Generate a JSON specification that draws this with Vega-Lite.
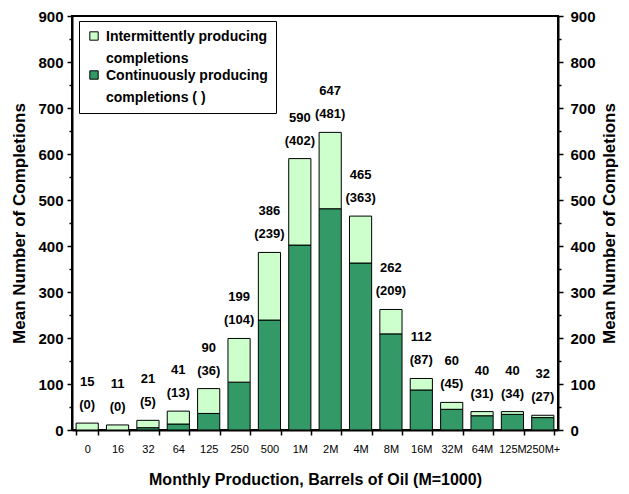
{
  "$schema": "https://vega.github.io/schema/vega-lite/v6.json",
  "width": 486,
  "height": 414,
  "autosize": {"type": "none"},
  "padding": {"left": 72, "top": 16, "right": 71, "bottom": 64},
  "background": "white",
  "config": {
    "font": "Liberation Sans",
    "view": {"stroke": "black", "strokeWidth": 2},
    "style": {"guide-label": {"lineHeight": 22}}
  },
  "datasets": {
    "bars": [
      {"cat": "0", "series": "Continuously producing|completions ( )", "value": 0},
      {"cat": "0", "series": "Intermittently producing|completions", "value": 15},
      {"cat": "16", "series": "Continuously producing|completions ( )", "value": 0},
      {"cat": "16", "series": "Intermittently producing|completions", "value": 11},
      {"cat": "32", "series": "Continuously producing|completions ( )", "value": 5},
      {"cat": "32", "series": "Intermittently producing|completions", "value": 16},
      {"cat": "64", "series": "Continuously producing|completions ( )", "value": 13},
      {"cat": "64", "series": "Intermittently producing|completions", "value": 28},
      {"cat": "125", "series": "Continuously producing|completions ( )", "value": 36},
      {"cat": "125", "series": "Intermittently producing|completions", "value": 54},
      {"cat": "250", "series": "Continuously producing|completions ( )", "value": 104},
      {"cat": "250", "series": "Intermittently producing|completions", "value": 95},
      {"cat": "500", "series": "Continuously producing|completions ( )", "value": 239},
      {"cat": "500", "series": "Intermittently producing|completions", "value": 147},
      {"cat": "1M", "series": "Continuously producing|completions ( )", "value": 402},
      {"cat": "1M", "series": "Intermittently producing|completions", "value": 188},
      {"cat": "2M", "series": "Continuously producing|completions ( )", "value": 481},
      {"cat": "2M", "series": "Intermittently producing|completions", "value": 166},
      {"cat": "4M", "series": "Continuously producing|completions ( )", "value": 363},
      {"cat": "4M", "series": "Intermittently producing|completions", "value": 102},
      {"cat": "8M", "series": "Continuously producing|completions ( )", "value": 209},
      {"cat": "8M", "series": "Intermittently producing|completions", "value": 53},
      {"cat": "16M", "series": "Continuously producing|completions ( )", "value": 87},
      {"cat": "16M", "series": "Intermittently producing|completions", "value": 25},
      {"cat": "32M", "series": "Continuously producing|completions ( )", "value": 45},
      {"cat": "32M", "series": "Intermittently producing|completions", "value": 15},
      {"cat": "64M", "series": "Continuously producing|completions ( )", "value": 31},
      {"cat": "64M", "series": "Intermittently producing|completions", "value": 9},
      {"cat": "125M", "series": "Continuously producing|completions ( )", "value": 34},
      {"cat": "125M", "series": "Intermittently producing|completions", "value": 6},
      {"cat": "250M+", "series": "Continuously producing|completions ( )", "value": 27},
      {"cat": "250M+", "series": "Intermittently producing|completions", "value": 5}
    ],
    "labels": [
      {"cat": "0", "total": 15, "cont": "(0)"},
      {"cat": "16", "total": 11, "cont": "(0)"},
      {"cat": "32", "total": 21, "cont": "(5)"},
      {"cat": "64", "total": 41, "cont": "(13)"},
      {"cat": "125", "total": 90, "cont": "(36)"},
      {"cat": "250", "total": 199, "cont": "(104)"},
      {"cat": "500", "total": 386, "cont": "(239)"},
      {"cat": "1M", "total": 590, "cont": "(402)"},
      {"cat": "2M", "total": 647, "cont": "(481)"},
      {"cat": "4M", "total": 465, "cont": "(363)"},
      {"cat": "8M", "total": 262, "cont": "(209)"},
      {"cat": "16M", "total": 112, "cont": "(87)"},
      {"cat": "32M", "total": 60, "cont": "(45)"},
      {"cat": "64M", "total": 40, "cont": "(31)"},
      {"cat": "125M", "total": 40, "cont": "(34)"},
      {"cat": "250M+", "total": 32, "cont": "(27)"}
    ]
  },
  "encoding": {
    "x": {
      "field": "cat",
      "type": "nominal",
      "sort": null,
      "scale": {"paddingInner": 0.27, "paddingOuter": 0.135},
      "axis": {
        "title": "Monthly Production, Barrels of Oil (M=1000)",
        "labelAngle": 0,
        "tickBand": "extent",
        "tickSize": 5,
        "tickColor": "black",
        "tickWidth": 1.5,
        "domainColor": "black",
        "domainWidth": 2,
        "labelFontSize": 11,
        "labelFontWeight": "normal",
        "labelColor": "black",
        "labelPadding": 8,
        "titleFontSize": 16,
        "titleFontWeight": "bold",
        "titleColor": "black",
        "titlePadding": 17
      }
    }
  },
  "layer": [
    {
      "data": {"name": "bars"},
      "mark": {"type": "bar", "stroke": "black", "strokeWidth": 1},
      "encoding": {
        "y": {
          "field": "value",
          "type": "quantitative",
          "stack": "zero",
          "scale": {"domain": [0, 900], "nice": false},
          "axis": {
            "orient": "left",
            "values": [0, 50, 100, 150, 200, 250, 300, 350, 400, 450, 500, 550, 600, 650, 700, 750, 800, 850, 900],
            "labelExpr": "datum.value % 100 === 0 ? datum.label : ''",
            "labelOverlap": false,
            "format": "d",
            "grid": false,
            "tickSize": {"condition": {"test": "datum.value % 100 !== 0", "value": 3}, "value": 5},
            "tickColor": "black",
            "tickWidth": 1.5,
            "domainColor": "black",
            "domainWidth": 2,
            "labelFontSize": 15,
            "labelFontWeight": "bold",
            "labelColor": "black",
            "labelPadding": 4,
            "title": "Mean Number of Completions",
            "titleFontSize": 17,
            "titleFontWeight": "bold",
            "titleColor": "black",
            "titlePadding": 9
          }
        },
        "color": {
          "field": "series",
          "type": "nominal",
          "scale": {
            "domain": ["Intermittently producing|completions", "Continuously producing|completions ( )"],
            "range": ["#CCFFCC", "#339966"]
          },
          "legend": {
            "title": null,
            "orient": "none",
            "legendX": 7,
            "legendY": 5,
            "fillColor": "white",
            "strokeColor": "black",
            "padding": 8,
            "symbolType": "square",
            "symbolSize": 70,
            "symbolStrokeColor": "black",
            "symbolStrokeWidth": 1,
            "labelExpr": "split(datum.label, '|')",
            "labelFontSize": 14,
            "labelFontWeight": "bold",
            "labelColor": "black",
            "labelBaseline": "top",
            "labelOffset": 5,
            "labelLimit": 400,
            "rowPadding": 2,
            "encode": {"labels": {"update": {"dy": {"value": -6}}}}
          }
        },
        "order": {"field": "series", "sort": "ascending"}
      }
    },
    {
      "data": {"name": "labels"},
      "mark": {"type": "text", "dy": -41, "baseline": "middle", "fontSize": 13, "fontWeight": "bold", "color": "black"},
      "encoding": {
        "y": {
          "field": "total",
          "type": "quantitative",
          "scale": {"domain": [0, 900], "nice": false},
          "axis": {
            "orient": "right",
            "values": [0, 50, 100, 150, 200, 250, 300, 350, 400, 450, 500, 550, 600, 650, 700, 750, 800, 850, 900],
            "labelExpr": "datum.value % 100 === 0 ? datum.label : ''",
            "labelOverlap": false,
            "format": "d",
            "grid": false,
            "tickSize": {"condition": {"test": "datum.value % 100 !== 0", "value": 3}, "value": 5},
            "tickColor": "black",
            "tickWidth": 1.5,
            "domainColor": "black",
            "domainWidth": 2,
            "labelFontSize": 15,
            "labelFontWeight": "bold",
            "labelColor": "black",
            "labelPadding": 7,
            "title": "Mean Number of Completions",
            "titleAngle": 270,
            "titleBaseline": "top",
            "titleFontSize": 17,
            "titleFontWeight": "bold",
            "titleColor": "black",
            "titlePadding": 6
          }
        },
        "text": {"field": "total", "type": "quantitative"}
      }
    },
    {
      "data": {"name": "labels"},
      "mark": {"type": "text", "dy": -18, "baseline": "middle", "fontSize": 13, "fontWeight": "bold", "color": "black"},
      "encoding": {
        "y": {
          "field": "total",
          "type": "quantitative",
          "scale": {"domain": [0, 900], "nice": false},
          "axis": null
        },
        "text": {"field": "cont", "type": "nominal"}
      }
    }
  ],
  "resolve": {"scale": {"y": "independent"}}
}
